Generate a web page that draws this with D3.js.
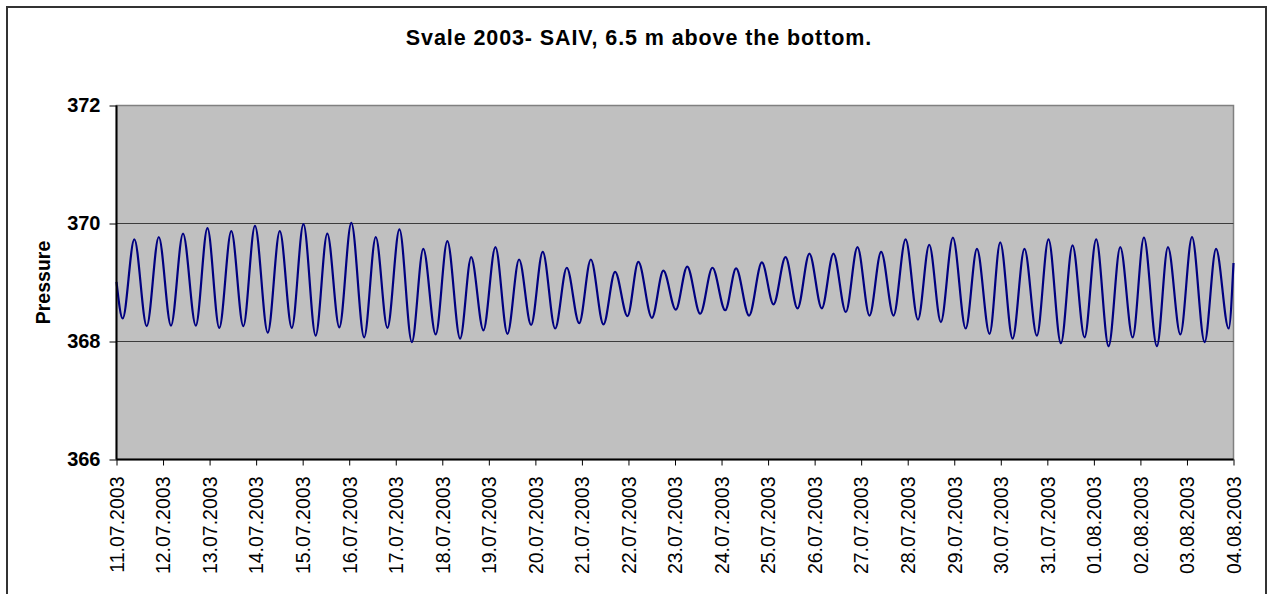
<!DOCTYPE html>
<html lang="en">
<head>
  <meta charset="utf-8" />
  <title>Svale 2003 - SAIV pressure</title>
  <script src="https://d3js.org/d3.v7.min.js"></script>
  <style>
    body {
      margin: 0;
      background: #ffffff;
      font-family: "Liberation Sans", Arial, sans-serif;
    }
    .tick line { stroke: #000; }
    .domain { display: none; }
  </style>
</head>
<body>
  <svg width="1269" height="594"></svg>
  <script>
    // hours since 11.07.2003 00:00 at each high / low
    const hours = [
      0, 3.2, 9.2, 15.6, 21.8, 28.1, 34.3, 40.9, 46.9, 53.0,
      59.2, 65.4, 71.4, 78.0, 84.2, 90.4, 96.4, 102.7, 108.7, 114.9,
      121.1, 127.7, 133.7, 139.7, 145.9, 152.3, 158.2, 164.6, 170.6, 177.2,
      182.9, 189.2, 195.4, 201.6, 207.6, 213.8, 219.8, 226.2, 232.2, 238.6,
      244.6, 251.1, 257.1, 263.5, 269.1, 276.1, 282.0, 288.4, 294.3, 301.0,
      307.3, 313.9, 319.5, 326.2, 332.8, 338.8, 345.0, 351.2, 357.3, 363.7,
      369.7, 376.1, 382.1, 388.3, 394.3, 400.7, 406.9, 413.3, 419.1, 425.1,
      431.3, 437.9, 443.7, 450.2, 455.7, 462.1, 468.2, 474.6, 480.6, 487.0,
      493.0, 499.2, 505.2, 511.6, 517.6, 524.0, 529.8, 536.5, 542.2, 548.6,
      554.6, 561.1, 567.0, 573.5, 576
    ];
    const pressure = [
      369.01, 368.39, 369.73, 368.26, 369.77, 368.27, 369.83, 368.27, 369.92, 368.23,
      369.87, 368.26, 369.96, 368.15, 369.87, 368.23, 369.99, 368.10, 369.83, 368.24,
      370.01, 368.07, 369.77, 368.23, 369.90, 367.99, 369.57, 368.12, 369.70, 368.05,
      369.43, 368.19, 369.60, 368.13, 369.39, 368.28, 369.52, 368.22, 369.25, 368.31,
      369.39, 368.29, 369.18, 368.43, 369.35, 368.40, 369.20, 368.54, 369.27, 368.47,
      369.25, 368.53, 369.24, 368.44, 369.34, 368.63, 369.43, 368.56, 369.49, 368.56,
      369.49, 368.50, 369.60, 368.44, 369.52, 368.44, 369.73, 368.37, 369.64, 368.33,
      369.76, 368.22, 369.57, 368.13, 369.68, 368.05, 369.57, 368.10, 369.73, 367.97,
      369.63, 368.07, 369.73, 367.92, 369.60, 368.07, 369.76, 367.92, 369.60, 368.12,
      369.77, 367.99, 369.57, 368.22, 369.33
    ];
    const yTicks = [366, 368, 370, 372];
    const startDate = new Date(2003, 6, 11);
    const endDate = new Date(2003, 7, 4);
    const titleText = "Svale 2003- SAIV, 6.5 m above the bottom.";
    const yLabel = "Pressure";

    const svg = d3.select("svg");
    const plot = { left: 116.5, top: 105.5, right: 1233.5, bottom: 459.5 };

    // outer frame
    svg.append("rect")
      .attr("x", 7).attr("y", 7)
      .attr("width", 1259).attr("height", 600)
      .attr("fill", "#fff")
      .attr("stroke", "#333").attr("stroke-width", 2);

    const x = d3.scaleTime().domain([startDate, endDate]).range([plot.left, plot.right]);
    const y = d3.scaleLinear().domain([366, 372]).range([plot.bottom, plot.top]);

    // plot background
    svg.append("rect")
      .attr("x", plot.left).attr("y", plot.top)
      .attr("width", plot.right - plot.left).attr("height", plot.bottom - plot.top)
      .attr("fill", "#c0c0c0")
      .attr("stroke", "#808080").attr("stroke-width", 1.5);

    // gridlines
    svg.append("g")
      .selectAll("line")
      .data(yTicks.filter(d => d > 366 && d < 372))
      .join("line")
      .attr("x1", plot.left).attr("x2", plot.right)
      .attr("y1", d => y(d)).attr("y2", d => y(d))
      .attr("stroke", "#3c3c3c").attr("stroke-width", 1);

    // series
    const points = hours.map((h, i) => ({
      t: new Date(startDate.getTime() + h * 3600 * 1000),
      v: pressure[i]
    }));
    const line = d3.line()
      .x(d => x(d.t))
      .y(d => y(d.v))
      .curve(d3.curveMonotoneX);

    svg.append("path")
      .datum(points)
      .attr("fill", "none")
      .attr("stroke", "#000080")
      .attr("stroke-width", 2.2)
      .attr("d", line);

    // axes lines
    svg.append("line")
      .attr("x1", plot.left).attr("x2", plot.left)
      .attr("y1", plot.top).attr("y2", plot.bottom)
      .attr("stroke", "#000").attr("stroke-width", 2);
    svg.append("line")
      .attr("x1", plot.left).attr("x2", plot.right)
      .attr("y1", plot.bottom).attr("y2", plot.bottom)
      .attr("stroke", "#000").attr("stroke-width", 2);

    // y axis
    const yAxis = svg.append("g")
      .attr("transform", `translate(${plot.left},0)`)
      .call(d3.axisLeft(y).tickValues(yTicks).tickSize(7).tickPadding(9).tickFormat(d3.format("d")));
    yAxis.selectAll("text")
      .attr("font-family", "Liberation Sans, Arial, sans-serif")
      .attr("font-size", 20)
      .attr("font-weight", "bold")
      .attr("fill", "#000");

    // x axis
    const xAxis = svg.append("g")
      .attr("transform", `translate(0,${plot.bottom})`)
      .call(d3.axisBottom(x)
        .tickValues(d3.timeDay.range(startDate, d3.timeDay.offset(endDate, 1)))
        .tickSize(6)
        .tickFormat(d3.timeFormat("%d.%m.%Y")));
    xAxis.selectAll("text")
      .attr("font-family", "Liberation Sans, Arial, sans-serif")
      .attr("font-size", 19.5)
      .attr("fill", "#000")
      .attr("text-anchor", "end")
      .attr("transform", "rotate(-90)")
      .attr("x", -17)
      .attr("y", 0)
      .attr("dy", "0.35em");

    // title
    svg.append("text")
      .attr("x", 639).attr("y", 45)
      .attr("text-anchor", "middle")
      .attr("font-size", 21.5)
      .attr("font-weight", "bold")
      .attr("letter-spacing", 0.9)
      .text(titleText);

    // y label
    svg.append("text")
      .attr("transform", `translate(50,${(plot.top + plot.bottom) / 2}) rotate(-90)`)
      .attr("text-anchor", "middle")
      .attr("font-size", 19.5)
      .attr("font-weight", "bold")
      .text(yLabel);
  </script>
</body>
</html>
